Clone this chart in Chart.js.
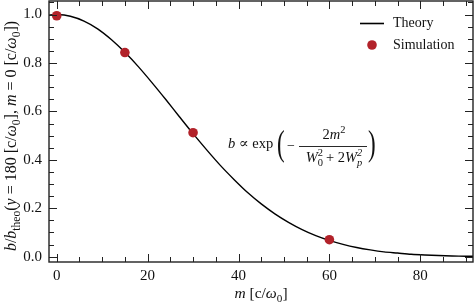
<!DOCTYPE html>
<html><head><meta charset="utf-8">
<script src="https://cdn.jsdelivr.net/npm/chart.js@4/dist/chart.umd.min.js"></script>
<style>html,body{margin:0;padding:0;background:#fff}#wrap{width:474px;height:302px}</style>
</head><body><div id="wrap"><canvas id="c" width="474" height="302"></canvas></div>
<script>
// ---- data ----
const theoryM = [-2, 0, 3, 6, 9, 12, 15, 18, 21, 24, 27, 30, 33, 36, 39, 42, 45, 48, 51, 54, 57, 60, 63, 66, 69, 72, 75, 78, 81, 84, 87, 90, 92];
const theoryB = [0.997, 1.000, 0.993, 0.973, 0.941, 0.897, 0.844, 0.784, 0.718, 0.649, 0.578, 0.508, 0.441, 0.377, 0.319, 0.265, 0.218, 0.177, 0.142, 0.112, 0.087, 0.067, 0.051, 0.038, 0.028, 0.020, 0.015, 0.010, 0.007, 0.005, 0.003, 0.002, 0.002];
const simM = [0, 15, 30, 60];
const simB = [0.995, 0.843, 0.512, 0.070];
const seriesNames = ['Theory', 'Simulation'];
const xTicks = [0, 20, 40, 60, 80];
const xTickLabels = ['0', '20', '40', '60', '80'];
const yTicks = [0, 0.2, 0.4, 0.6, 0.8, 1.0];
const yTickLabels = ['0.0', '0.2', '0.4', '0.6', '0.8', '1.0'];

const SERIF = '"Liberation Serif", "DejaVu Serif", serif';
const INK = '#222';
const RED = '#b2222a';
const fnt = (sz, it) => (it ? 'italic ' : '') + sz + 'px ' + SERIF;

function drawRich(ctx, segs, sz, x, y, align) {
  const items = [];
  let w = 0;
  for (const s of segs) {
    const small = s.sub || s.sup || s.stack;
    const fs = small ? sz * 0.72 : sz;
    ctx.font = fnt(fs, s.i);
    let ww;
    if (s.stack) {
      ctx.font = fnt(fs, s.i);
      ww = Math.max(ctx.measureText(s.stack[0]).width, ctx.measureText(s.stack[1]).width);
    } else ww = ctx.measureText(s.t).width;
    items.push({ s, fs, x: w });
    w += ww + (s.gap || 0);
  }
  const x0 = align === 'center' ? x - w / 2 : x;
  ctx.textBaseline = 'alphabetic';
  ctx.textAlign = 'left';
  for (const it of items) {
    const s = it.s;
    ctx.font = fnt(it.fs, s.i);
    if (s.stack) {
      ctx.fillText(s.stack[0], x0 + it.x, y - sz * 0.42);
      ctx.fillText(s.stack[1], x0 + it.x, y + sz * 0.28);
    } else {
      const dy = s.sub ? sz * 0.25 : s.sup ? -sz * 0.42 : 0;
      ctx.fillText(s.t, x0 + it.x, y + dy);
    }
  }
  return w;
}

const deco = {
  id: 'deco',
  afterDraw(chart) {
    const { ctx, chartArea: a, scales: { x, y } } = chart;
    ctx.save();
    ctx.strokeStyle = INK;
    ctx.fillStyle = INK;
    const seg = (x1, y1, x2, y2) => { ctx.beginPath(); ctx.moveTo(x1, y1); ctx.lineTo(x2, y2); ctx.stroke(); };
    // inward ticks on all four sides
    ctx.lineWidth = 1;
    for (let k = 0; k <= 18; k++) {
      const v = k * 5;
      const px = Math.round(x.getPixelForValue(v)) + 0.5;
      const L = (v % 20 === 0) ? 8 : 5;
      seg(px, a.bottom, px, a.bottom - L);
      seg(px, a.top, px, a.top + L);
    }
    for (let k = 0; k <= 21; k++) {
      const v = k * 0.05;
      const py = Math.round(y.getPixelForValue(v)) + 0.5;
      const L = (k % 4 === 0) ? 8 : 5;
      seg(a.left, py, a.left + L, py);
      seg(a.right, py, a.right - L, py);
    }
    ctx.lineWidth = 1.4;
    ctx.strokeRect(a.left, a.top, a.right - a.left, a.bottom - a.top);

    // axis titles
    ctx.fillStyle = '#111';
    drawRich(ctx, [{ t: 'm', i: 1 }, { t: ' [c/' }, { t: 'ω', i: 1 }, { t: '0', sub: 1 }, { t: ']' }], 15.5, (a.left + a.right) / 2, 298, 'center');
    ctx.save();
    ctx.translate(16, 136);
    ctx.rotate(-Math.PI / 2);
    drawRich(ctx, [
      { t: 'b', i: 1 }, { t: '/' }, { t: 'b', i: 1 }, { t: 'theo', sub: 1 }, { t: '(' }, { t: 'y', i: 1 },
      { t: ' = 180 [c/' }, { t: 'ω', i: 1 }, { t: '0', sub: 1 }, { t: '], ' }, { t: 'm', i: 1 },
      { t: ' = 0 [c/' }, { t: 'ω', i: 1 }, { t: '0', sub: 1 }, { t: '])' }
    ], 16, 0, 0, 'center');
    ctx.restore();

    // legend
    ctx.strokeStyle = '#000';
    ctx.lineWidth = 1.6;
    seg(360, 23.5, 384, 23.5);
    ctx.fillStyle = RED;
    ctx.beginPath(); ctx.arc(372, 45, 4.8, 0, Math.PI * 2); ctx.fill();
    ctx.fillStyle = '#111';
    ctx.font = fnt(14, false);
    ctx.textBaseline = 'middle';
    ctx.textAlign = 'left';
    ctx.fillText(seriesNames[0], 393, 23.5);
    ctx.fillText(seriesNames[1], 393, 45);

    // formula annotation
    ctx.fillStyle = '#111';
    drawRich(ctx, [{ t: 'b', i: 1 }, { t: ' ∝ exp' }], 14.5, 228, 148, 'left');
    ctx.save();
    ctx.font = fnt(23, false);
    ctx.textBaseline = 'middle';
    ctx.translate(0, 146);
    ctx.scale(1, 1.55);
    ctx.fillText('(', 277, 0);
    ctx.fillText(')', 368, 0);
    ctx.restore();
    ctx.font = fnt(14, false);
    ctx.textBaseline = 'alphabetic';
    ctx.fillText('−', 287, 150);
    drawRich(ctx, [{ t: '2' }, { t: 'm', i: 1 }, { t: '2', sup: 1 }], 14.5, 334, 139, 'center');
    ctx.lineWidth = 0.9;
    ctx.strokeStyle = '#111';
    seg(299, 146.5, 367, 146.5);
    drawRich(ctx, [{ t: 'W', i: 1 }, { stack: ['2', '0'], gap: 3 }, { t: '+ 2' }, { t: 'W', i: 1 }, { stack: ['2', 'p'], i: 1 }], 14.5, 334, 162, 'center');
    ctx.restore();
  }
};

new Chart(document.getElementById('c'), {
  type: 'scatter',
  data: {
    datasets: [
      {
        label: seriesNames[0],
        data: theoryM.map((m, i) => ({ x: m, y: theoryB[i] })),
        showLine: true, borderColor: '#000', borderWidth: 1.4, pointRadius: 0, tension: 0.3, order: 2
      },
      {
        label: seriesNames[1],
        data: simM.map((m, i) => ({ x: m, y: simB[i] })),
        showLine: false, pointRadius: 4.8, pointBackgroundColor: RED, pointBorderColor: RED, pointBorderWidth: 0, order: 1
      }
    ]
  },
  options: {
    responsive: false, devicePixelRatio: 1, animation: false,
    layout: { autoPadding: false, padding: { left: 0, top: 1, right: 1, bottom: 0 } },
    plugins: { legend: { display: false }, tooltip: { enabled: false } },
    scales: {
      x: {
        type: 'linear', min: -1.7, max: 91.6,
        grid: { display: false, drawTicks: false }, border: { display: false },
        afterBuildTicks: s => { s.ticks = xTicks.map(v => ({ value: v })); },
        afterFit: s => { s.height = 40; s.paddingLeft = 0; s.paddingRight = 0; },
        ticks: { padding: 5, color: '#111', font: { family: SERIF, size: 15 }, maxRotation: 0,
          callback: (v) => xTickLabels[xTicks.indexOf(v)] }
      },
      y: {
        type: 'linear', min: -0.022, max: 1.056,
        grid: { display: false, drawTicks: false }, border: { display: false },
        afterBuildTicks: s => { s.ticks = yTicks.map(v => ({ value: v })); },
        afterFit: s => { s.width = 49; s.paddingTop = 0; s.paddingBottom = 0; },
        ticks: { padding: 7, color: '#111', font: { family: SERIF, size: 15 },
          callback: (v) => yTickLabels[yTicks.indexOf(v)] }
      }
    }
  },
  plugins: [deco]
});
</script></body></html>
